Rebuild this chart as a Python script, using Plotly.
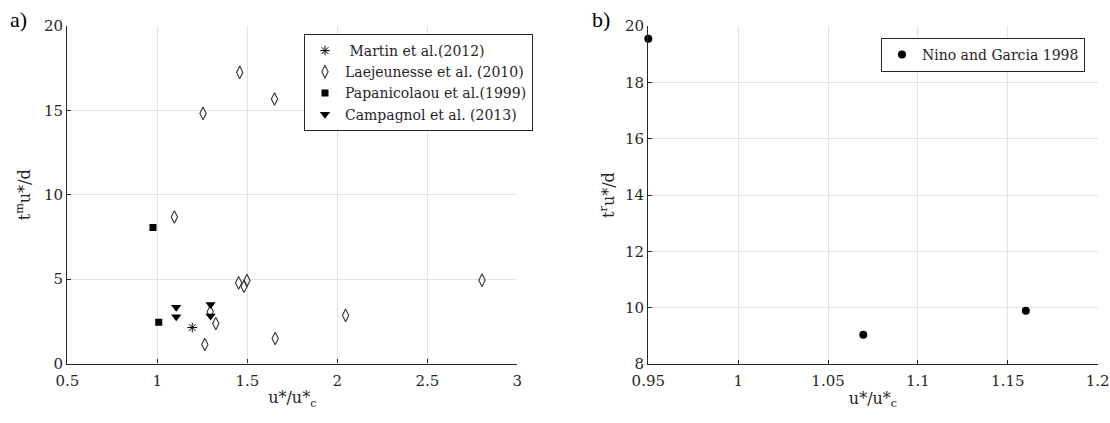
import plotly.graph_objects as go

# ---------------- data (panel a) ----------------
martin_x = [1.194]
martin_y = [2.13]

laej_x = [1.458, 1.651, 1.254, 1.095, 1.452, 1.498, 1.482, 1.294, 1.325, 1.264, 1.655, 2.046, 2.804]
laej_y = [17.25, 15.67, 14.82, 8.68, 4.78, 4.92, 4.58, 3.06, 2.37, 1.13, 1.48, 2.85, 4.94]

papa_x = [0.976, 1.008]
papa_y = [8.06, 2.45]

camp_x = [1.105, 1.105, 1.296, 1.296]
camp_y = [3.34, 2.77, 3.50, 2.81]

# ---------------- data (panel b) ----------------
nino_x = [0.95, 1.0696, 1.16]
nino_y = [19.55, 9.04, 9.89]

xa_ticks = [0.5, 1, 1.5, 2, 2.5, 3]
xa_labels = ["0.5", "1", "1.5", "2", "2.5", "3"]
ya_ticks = [0, 5, 10, 15, 20]
xb_ticks = [0.95, 1.0, 1.05, 1.1, 1.15, 1.2]
xb_labels = ["0.95", "1", "1.05", "1.1", "1.15", "1.2"]
yb_ticks = [8, 10, 12, 14, 16, 18, 20]

FONT = "DejaVu Serif"
TFONT = "Liberation Serif"
AX = "#262626"
GRID = "#e3e3e3"
W, H = 1110, 423

fig = go.Figure()

fig.add_trace(go.Scatter(x=martin_x, y=martin_y, mode="markers", name=" Martin et al.(2012)",
                         marker=dict(symbol="asterisk-open", size=8, color="black",
                                     line=dict(color="black", width=1)),
                         xaxis="x", yaxis="y", legend="legend"))
fig.add_trace(go.Scatter(x=laej_x, y=laej_y, mode="markers", name="Laejeunesse et al. (2010)",
                         marker=dict(symbol="diamond-tall-open", size=9, color="#333333",
                                     line=dict(color="#333333", width=1.1)),
                         xaxis="x", yaxis="y", legend="legend"))
fig.add_trace(go.Scatter(x=papa_x, y=papa_y, mode="markers", name="Papanicolaou et al.(1999)",
                         marker=dict(symbol="square", size=7, color="black"),
                         xaxis="x", yaxis="y", legend="legend"))
fig.add_trace(go.Scatter(x=camp_x, y=camp_y, mode="markers", name="Campagnol et al. (2013)",
                         marker=dict(symbol="triangle-down", size=9, color="black"),
                         xaxis="x", yaxis="y", legend="legend"))

fig.add_trace(go.Scatter(x=nino_x, y=nino_y, mode="markers", name="Nino and Garcia 1998",
                         marker=dict(symbol="circle", size=8, color="black"),
                         xaxis="x2", yaxis="y2", legend="legend2", cliponaxis=False))

def px_x(p):
    return p / W

def px_y(p):
    return 1 - p / H

axis_common = dict(showline=True, linecolor=AX, linewidth=1.3, mirror=False,
                   showgrid=True, gridcolor=GRID, gridwidth=1,
                   ticks="inside", ticklen=4, tickcolor=AX, tickwidth=1,
                   zeroline=False, automargin=False,
                   tickfont=dict(family=FONT, size=15, color=AX))

title_font = dict(family=FONT, size=16, color=AX)

fig.update_layout(
    template="none",
    width=W, height=H,
    margin=dict(l=0, r=0, t=0, b=0, pad=0),
    paper_bgcolor="white", plot_bgcolor="white",
    font=dict(family=FONT, color=AX),
    xaxis=dict(domain=[px_x(67.3), px_x(517.3)], range=[0.5, 3], tickvals=xa_ticks,
               ticktext=xa_labels, anchor="y", ticklabelstandoff=3,
               title=dict(text="u*/u*<sub>c</sub>", font=title_font, standoff=3),
               **axis_common),
    yaxis=dict(domain=[px_y(363.5), px_y(26)], range=[0, 20], tickvals=ya_ticks, anchor="x",
               title=dict(text="t<sup>m</sup>u*/d", font=title_font, standoff=9),
               **axis_common),
    xaxis2=dict(domain=[px_x(648.3), px_x(1097.7)], range=[0.95, 1.2], tickvals=xb_ticks,
                ticktext=xb_labels, anchor="y2", ticklabelstandoff=3,
                title=dict(text="u*/u*<sub>c</sub>", font=title_font, standoff=3),
                **axis_common),
    yaxis2=dict(domain=[px_y(364), px_y(26)], range=[8, 20], tickvals=yb_ticks, anchor="x2",
                title=dict(text="t<sup>r</sup>u*/d", font=title_font, standoff=6),
                **axis_common),
    legend=dict(x=px_x(304), y=px_y(34), xanchor="left", yanchor="top",
                bgcolor="white", bordercolor=AX, borderwidth=1,
                font=dict(family=FONT, size=14, color=AX), tracegroupgap=0),
    legend2=dict(x=px_x(881), y=px_y(38), xanchor="left", yanchor="top",
                 bgcolor="white", bordercolor=AX, borderwidth=1,
                 font=dict(family=FONT, size=14, color=AX)),
    showlegend=True,
    annotations=[
        dict(text="a)", x=px_x(8), y=px_y(20), xref="paper", yref="paper",
             xanchor="left", yanchor="middle", showarrow=False,
             font=dict(family=TFONT, size=22, color="black")),
        dict(text="b)", x=px_x(590), y=px_y(20), xref="paper", yref="paper",
             xanchor="left", yanchor="middle", showarrow=False,
             font=dict(family=TFONT, size=22, color="black")),
    ],
)

fig.write_html("out.html")
